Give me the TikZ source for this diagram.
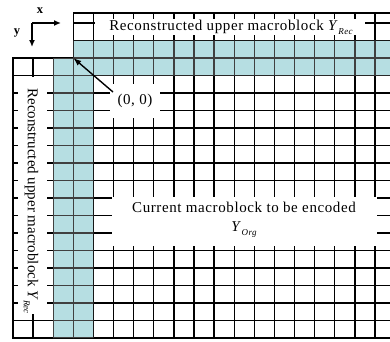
\documentclass[tikz,border=0pt]{standalone}
\usepackage{fontspec}
\setmainfont{Liberation Serif}
\newfontfamily\spacedserif[LetterSpace=4]{Liberation Serif}
\usetikzlibrary{arrows.meta}
\definecolor{recfill}{RGB}{182,222,226}
\newcommand\lowsub[1]{\raisebox{-0.6ex}{\fontsize{9}{9}\selectfont\itshape #1}}
\begin{document}
\begin{tikzpicture}[x=1pt,y=-1pt,
  gridline/.style={line width=1.4pt,black,line cap=rect},
  shadedline/.style={line width=1.4pt,black!75,line cap=rect},
  blank/.style={fill=white,draw=none,inner sep=0pt},
  lbl/.style={font=\fontsize{15}{18}\selectfont,inner sep=0pt},
  wide/.style={font=\spacedserif\fontsize{15}{18.5}\selectfont,inner sep=0pt},
  axis/.style={line width=1.4pt,-{Latex[length=7pt,width=6pt]}},
  pointer/.style={line width=1.4pt,-{Latex[length=8pt,width=6pt]}},
  axlabel/.style={font=\bfseries\fontsize{12.5}{12.5}\selectfont,inner sep=0pt},
  ]
\useasboundingbox (0,0) rectangle (390,341);
\def\cw{20.11}\def\ch{17.5}
% reconstructed neighbour samples (L-shaped band)
\fill[recfill] (73.33,40.5) -- (390,40.5) -- (390,75.5) -- (93.44,75.5)
  -- (93.44,338) -- (53.22,338) -- (53.22,58) -- (73.33,58) -- cycle;
% vertical grid lines
\foreach \k in {0,1,2} \draw[gridline] (13+\k*\cw,58) -- (13+\k*\cw,338);
\foreach \k in {3,...,18} \draw[gridline] (13+\k*\cw,13) -- (13+\k*\cw,338);
% horizontal grid lines
\foreach \y in {13,23,40.5} \draw[gridline] (73.33,\y) -- (390,\y);
\foreach \j in {0,...,16} \draw[gridline] (13,58+\j*\ch) -- (390,58+\j*\ch);
% grid inside the band is a little lighter
\begin{scope}
  \clip (73.33,40.5) -- (390,40.5) -- (390,75.5) -- (93.44,75.5)
    -- (93.44,338) -- (53.22,338) -- (53.22,58) -- (73.33,58) -- cycle;
  \foreach \k in {2,...,18} \draw[shadedline] (13+\k*\cw,13) -- (13+\k*\cw,338);
  \foreach \j in {0,...,16} \draw[shadedline] (13,58+\j*\ch) -- (390,58+\j*\ch);
  \draw[shadedline] (73.33,40.5) -- (390,40.5);
\end{scope}
% blank panels behind the captions
\fill[white] (95,19) rectangle (365,35);
\fill[white] (18,77) rectangle (47,314);
\fill[white] (112,197) rectangle (377,246);
% captions
\node[wide] (upperlabel) at (231,27) {Reconstructed upper macroblock \textit{Y}\lowsub{Rec}};
\node[lbl,rotate=-90] (leftlabel) at (31,201) {Reconstructed upper macroblock \textit{Y}\lowsub{Rec}};
\node[wide,align=center] (curlabel) at (244,220) {Current macroblock to be encoded\\ \textit{Y}\lowsub{Org}};
% origin marker
\node[blank,wide,minimum width=50pt,minimum height=34pt] (origin) at (135,101) {(0, 0)};
\coordinate (corner) at (73.33,58);
\coordinate (pstart) at (113,92);
\draw[pointer] (pstart) -- (corner);
% axes
\coordinate (axo) at (32,23);
\coordinate (axx) at (61,23);
\coordinate (axy) at (32,47);
\draw[axis] (axo) -- (axx);
\draw[axis] (axo) -- (axy);
\node[axlabel] (xlab) at (40,11) {x};
\node[axlabel] (ylab) at (17,33) {y};
\end{tikzpicture}
\end{document}
